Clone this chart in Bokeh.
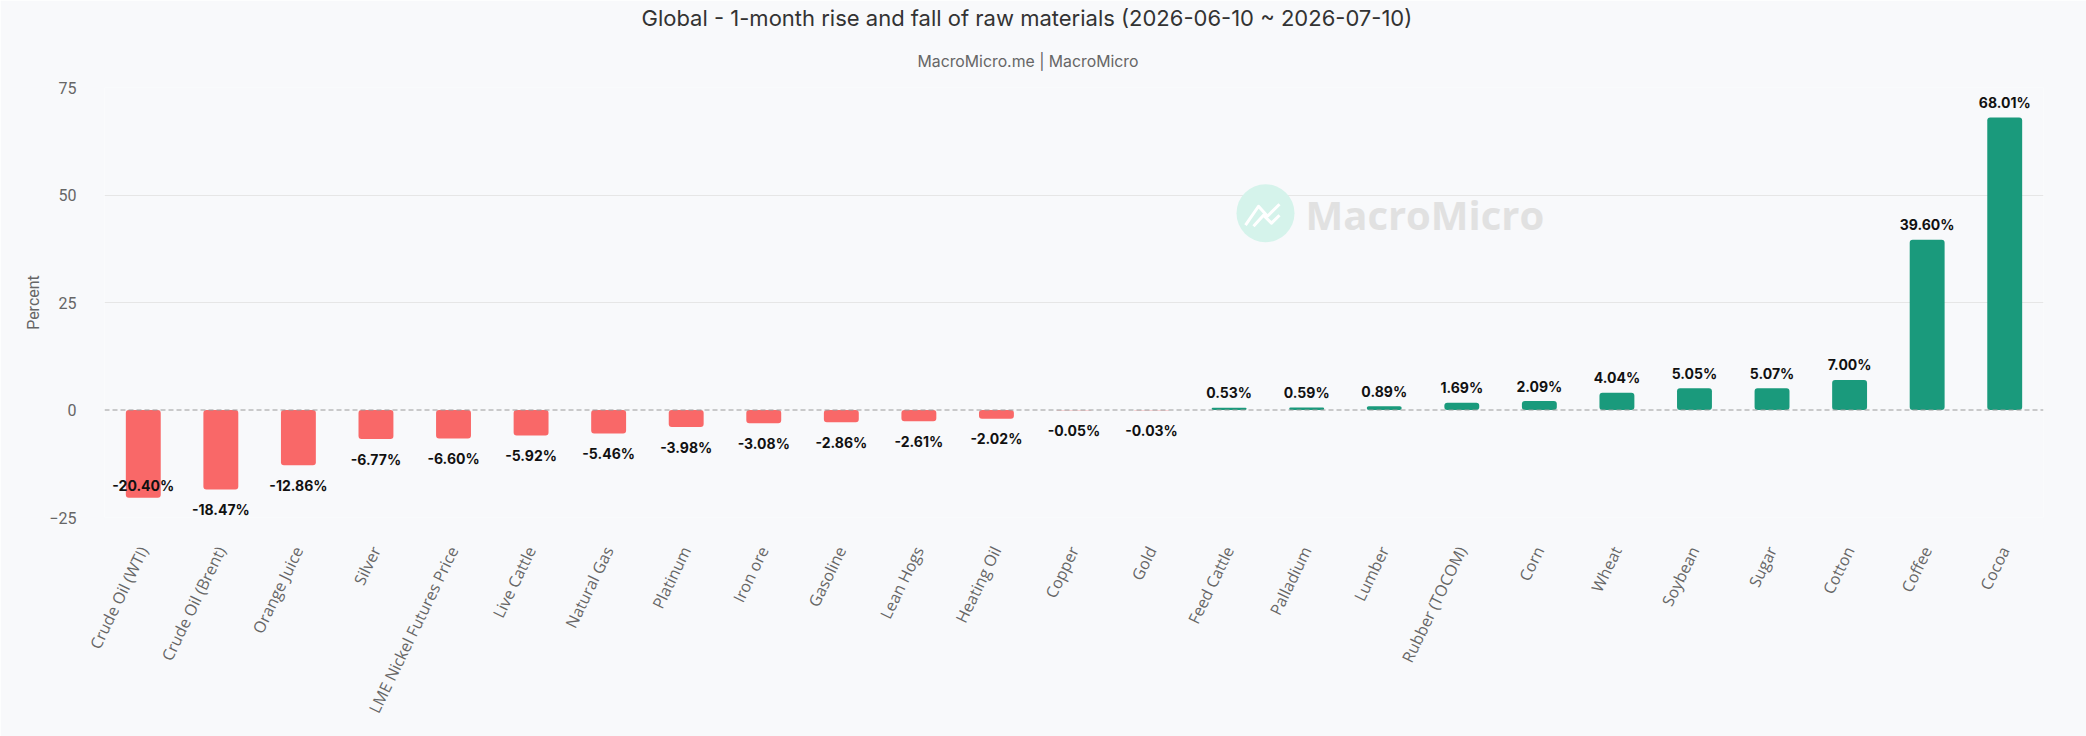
import math
from bokeh.plotting import figure
from bokeh.models import ColumnDataSource, FactorRange, Range1d, FixedTicker, Span, Label, Title
from bokeh.core.properties import value
from bokeh.embed import file_html
from bokeh.resources import INLINE

# ---- data ----
categories = [
    "Crude Oil (WTI)", "Crude Oil (Brent)", "Orange Juice", "Silver",
    "LME Nickel Futures Price", "Live Cattle", "Natural Gas", "Platinum",
    "Iron ore", "Gasoline", "Lean Hogs", "Heating Oil", "Copper", "Gold",
    "Feed Cattle", "Palladium", "Lumber", "Rubber (TOCOM)", "Corn", "Wheat",
    "Soybean", "Sugar", "Cotton", "Coffee", "Cocoa",
]
changes = [
    -20.40, -18.47, -12.86, -6.77, -6.60, -5.92, -5.46, -3.98, -3.08, -2.86,
    -2.61, -2.02, -0.05, -0.03, 0.53, 0.59, 0.89, 1.69, 2.09, 4.04,
    5.05, 5.07, 7.00, 39.60, 68.01,
]
y_ticks = [-25, 0, 25, 50, 75]
title_text = "Global - 1-month rise and fall of raw materials (2026-06-10 ~ 2026-07-10)"
subtitle_text = "MacroMicro.me | MacroMicro"
y_axis_label = "Percent"
watermark_text = "MacroMicro"

# ---- style ----
BG = "#f8f9fb"
NEG = "#f96868"
POS = "#1a9a7c"
GRID = "#e6e6e6"
W, H = 2086, 736
ML, MR, MT, MB = 104, 43, 86, 219
Y0, Y1 = -25, 75
frame_w = W - ML - MR
frame_h = H - MT - MB
ppx = frame_w / len(categories)      # pixels per category
ppy = frame_h / (Y1 - Y0)            # pixels per unit


def px_to_data(page_x, page_y):
    """convert a page pixel position (reference image) to data coords"""
    fx = page_x - ML
    fy = page_y - MT
    return fx / ppx, Y1 - fy / ppy


colors = [POS if v >= 0 else NEG for v in changes]
labels = [f"{v:.2f}%" for v in changes]
offsets = []
for v in changes:
    if v >= 0:
        offsets.append(-15)
    else:
        room = (v - Y0) * ppy
        offsets.append(20 if room >= 27 else -12)

src = ColumnDataSource(dict(cat=categories, val=changes, color=colors,
                            label=labels, yoff=offsets))

p = figure(
    x_range=FactorRange(*categories, range_padding=0),
    y_range=Range1d(Y0, Y1),
    width=W, height=H,
    output_backend="svg", toolbar_location=None,
    min_border_left=ML, min_border_right=MR,
    min_border_top=MT, min_border_bottom=MB,
)
p.background_fill_color = BG
p.border_fill_color = BG
p.outline_line_color = None

# watermark
cx, cy = px_to_data(1265, 212)
p.scatter([cx], [cy], size=58, marker="circle", fill_color="#d5f3eb", line_color=None)
zz = [(-20, 12), (-7, -7), (2, 3), (14, -9)]
p.line([cx + dx / ppx for dx, dy in zz], [cy - dy / ppy for dx, dy in zz],
       line_color="white", line_width=3, line_join="round")
zz2 = [(-12, 13), (-2, 2), (6, 10), (14, 2)]
p.line([cx + dx / ppx for dx, dy in zz2], [cy - dy / ppy for dx, dy in zz2],
       line_color="white", line_width=3, line_join="round")
wx, wy = px_to_data(1305, 213)
p.add_layout(Label(x=wx, y=wy, text=watermark_text, text_font="Open Sans",
                   text_font_style="bold", text_font_size="40px",
                   text_color="#e1e1e1", text_align="left", text_baseline="middle",
                   level="glyph"))

# bars
p.vbar(x="cat", top="val", bottom=0, width=0.45, source=src,
       fill_color="color", line_color=None, border_radius=3)

# zero line
p.add_layout(Span(location=0, dimension="width", line_color="#9a9a9a",
                  line_dash="5 3", line_width=1))

# data labels
p.text(x="cat", y="val", text="label", y_offset="yoff", source=src,
       text_align="center", text_baseline="middle",
       text_font=value("Inter"), text_font_style="bold",
       text_font_size="14px", text_color="#111111")

# axes
p.xaxis.axis_line_color = None
p.xaxis.major_tick_line_color = None
p.xaxis.minor_tick_line_color = None
p.xaxis.major_label_orientation = math.radians(64)
p.xaxis.major_label_text_font = "Open Sans"
p.xaxis.major_label_text_font_size = "16px"
p.xaxis.major_label_text_color = "#666666"
p.xaxis.major_label_standoff = 24

p.yaxis.ticker = FixedTicker(ticks=y_ticks)
p.yaxis.axis_line_color = None
p.yaxis.major_tick_line_color = None
p.yaxis.minor_tick_line_color = None
p.yaxis.major_label_text_font = "Roboto"
p.yaxis.major_label_text_font_size = "16px"
p.yaxis.major_label_text_color = "#666666"
p.yaxis.major_label_standoff = 22
p.yaxis.axis_label = y_axis_label
p.yaxis.axis_label_text_font = "Roboto"
p.yaxis.axis_label_text_font_style = "normal"
p.yaxis.axis_label_text_font_size = "16px"
p.yaxis.axis_label_text_color = "#666666"
p.yaxis.axis_label_standoff = 3

p.xgrid.grid_line_color = None
p.ygrid.ticker = FixedTicker(ticks=[t for t in y_ticks if t != 0])
p.ygrid.grid_line_color = GRID
p.ygrid.grid_line_width = 1

# titles (first added sits closest to the frame)
p.add_layout(Title(text=subtitle_text, text_font="Inter", text_font_size="15.8px",
                   text_font_style="normal", text_color="#666666",
                   align="left", offset=917 - ML, standoff=33), "above")
p.add_layout(Title(text=title_text, text_font="Inter", text_font_size="22px",
                   text_font_style="normal", text_color="#333333",
                   align="left", offset=641 - ML, standoff=5), "above")

open("out.html", "w").write(file_html(p, INLINE))
